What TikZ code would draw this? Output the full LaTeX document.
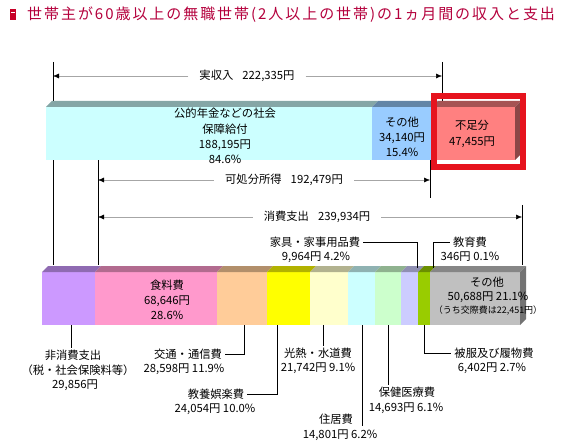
\documentclass[tikz,border=0pt]{standalone}
\usepackage{fontspec}
\setmainfont{Noto Sans CJK JP}
\usetikzlibrary{arrows.meta}
\definecolor{ttl}{RGB}{180,0,60}
\definecolor{ttlbox}{RGB}{200,0,40}
\definecolor{pension}{RGB}{204,255,255}
\definecolor{othinc}{RGB}{153,204,255}
\definecolor{deficit}{RGB}{255,128,128}
\definecolor{hilite}{RGB}{230,20,30}
\definecolor{nonc}{RGB}{204,153,255}
\definecolor{food}{RGB}{255,153,204}
\definecolor{trans}{RGB}{255,204,153}
\definecolor{cult}{RGB}{255,255,0}
\definecolor{util}{RGB}{255,255,204}
\definecolor{house}{RGB}{204,255,255}
\definecolor{health}{RGB}{204,255,204}
\definecolor{furn}{RGB}{204,204,255}
\definecolor{cloth}{RGB}{153,204,0}
\definecolor{misc}{RGB}{192,192,192}
\begin{document}
\begin{tikzpicture}[x=1pt, y=-1pt, font=\fontsize{11.3}{15.3}\selectfont,
		txt/.style={inner xsep=3pt, inner ysep=2pt, align=center},
		dimtxt/.style={inner xsep=11pt, inner ysep=0pt},
		arr/.style={gray!70, line width=0.5pt, -{Latex[black, length=6pt, width=5pt]}},
		vline/.style={line width=0.8pt},
		lead/.style={line width=0.8pt}]
	\useasboundingbox (0,0) rectangle (572,446);
	% title
	\fill[ttlbox] (10,9) rectangle (16,20);
	\draw[white, line width=0.8pt] (11,12) -- (15,12);
	\node[anchor=west, text=ttl, inner sep=0pt, font=\fontsize{15}{17}\selectfont\addfontfeatures{LetterSpace=13}] (title) at (27,15) {世帯主が60歳以上の無職世帯(2人以上の世帯)の1ヵ月間の収入と支出};
	% dimension lines
	\draw[vline] (53,62) -- (53,265);
	\draw[vline] (442,62) -- (442,101);
	\draw[vline] (98,160) -- (98,265);
	\draw[vline] (430,160) -- (430,198);
	\draw[vline] (522,205) -- (522,265);
	% income bar
	\foreach \a/\b/\c in {46/372/pension, 372/432/othinc, 432/515/deficit} {
			\fill[\c] (\a,107) rectangle (\b,160);
			\fill[\c!65!black] (\a,107) -- (\a+6,101) -- (\b+6,101) -- (\b,107) -- cycle;
		}
	\fill[deficit!55!black] (515,107) -- (521,101) -- (521,154) -- (515,160) -- cycle;
	\draw[hilite, line width=5.5pt] (434,96) rectangle (523,167);
	% expenditure bar
	\foreach \a/\b/\c in {42/95/nonc, 95/217/food, 217/267/trans, 267/310/cult, 310/348/util, 348/375/house, 375/401/health, 401/418/furn, 418/430/cloth, 430/520/misc} {
			\fill[\c] (\a,272) rectangle (\b,325);
			\fill[\c!70!black] (\a,272) -- (\a+6,266) -- (\b+6,266) -- (\b,272) -- cycle;
		}
	\fill[misc!60!black] (520,272) -- (526,266) -- (526,319) -- (520,325) -- cycle;
	% bar texts
	\node[txt] (pension) at (225,136) {公的年金などの社会\\保障給付\\188,195円\\84.6\%};
	\node[txt] (othinc) at (402,137) {その他\\34,140円\\15.4\%};
	\node[txt] (deficit) at (472,134) {不足分\\47,455円};
	\node[txt] (food) at (167,300) {食料費\\68,646円\\28.6\%};
	\node[txt] (misc1) at (487,282) {その他};
	\node[txt] (misc2) at (488,297) {50,688円 21.1\%};
	\node[txt, font=\fontsize{9}{11}\selectfont] (misc3) at (488,311) {（うち交際費は22,451円）};
	% income / expenditure arrows
	\coordinate (jitsuL) at (53,76);
	\coordinate (jitsuR) at (442,76);
	\coordinate (kashoL) at (98,180);
	\coordinate (kashoR) at (430,180);
	\coordinate (shohiL) at (98,217);
	\coordinate (shohiR) at (522,217);
	\node[dimtxt] (jitsu) at (247,76) {実収入\hspace{0.8em}222,335円};
	\node[dimtxt] (kasho) at (284,180) {可処分所得\hspace{0.8em}192,479円};
	\node[dimtxt] (shohi) at (317,217) {消費支出\hspace{0.8em}239,934円};
	\foreach \n in {jitsu, kasho, shohi} {
			\draw[arr] (\n.west) -- (\n L);
			\draw[arr] (\n.east) -- (\n R);
		}
	% leader labels
	\node[txt] (kagu1) at (315,242) {家具・家事用品費};
	\node[txt] (kagu2) at (316,257) {9,964円 4.2\%};
	\node[txt] (kyoiku1) at (470,242) {教育費};
	\node[txt] (kyoiku2) at (470,257) {346円 0.1\%};
	\node[txt] (hi1) at (73,355) {非消費支出};
	\node[txt] (hi2) at (78,370) {（税・社会保険料等）};
	\node[txt] (hi3) at (75,385) {29,856円};
	\node[txt] (kotsu1) at (188,354) {交通・通信費};
	\node[txt] (kotsu2) at (184,369) {28,598円 11.9\%};
	\node[txt] (kyoyo1) at (216,394) {教養娯楽費};
	\node[txt] (kyoyo2) at (215,409) {24,054円 10.0\%};
	\node[txt] (konetsu1) at (318,353) {光熱・水道費};
	\node[txt] (konetsu2) at (318,368) {21,742円 9.1\%};
	\node[txt] (jukyo1) at (336,419) {住居費};
	\node[txt] (jukyo2) at (340,435) {14,801円 6.2\%};
	\node[txt] (hoken1) at (407,392) {保健医療費};
	\node[txt] (hoken2) at (406,408) {14,693円 6.1\%};
	\node[txt] (hifuku1) at (494,353) {被服及び履物費};
	\node[txt] (hifuku2) at (492,368) {6,402円 2.7\%};
	% leaders
	\coordinate (cKagu) at (417,268);
	\coordinate (cKyoiku) at (433,268);
	\coordinate (cHi) at (71,325);
	\coordinate (cKotsu) at (244,325);
	\coordinate (cKyoyo) at (277,325);
	\coordinate (cKonetsu) at (323,325);
	\coordinate (cJukyo) at (362,325);
	\coordinate (cHoken) at (388,325);
	\coordinate (cHifuku) at (424,325);
	\draw[lead] (kagu1.east) -| (cKagu);
	\draw[lead] (kyoiku1.west) -| (cKyoiku);
	\draw[lead] (cHi) -- (cHi |- hi1.north);
	\draw[lead] (cKotsu) |- (kotsu1.east);
	\draw[lead] (cKyoyo) |- (kyoyo1.east);
	\draw[lead] (cKonetsu) -- (cKonetsu |- konetsu1.north);
	\draw[lead] (cJukyo) -- (cJukyo |- jukyo1.south);
	\draw[lead] (cHoken) -- (cHoken |- hoken1.north);
	\draw[lead] (cHifuku) |- (hifuku1.west);
\end{tikzpicture}
\end{document}
